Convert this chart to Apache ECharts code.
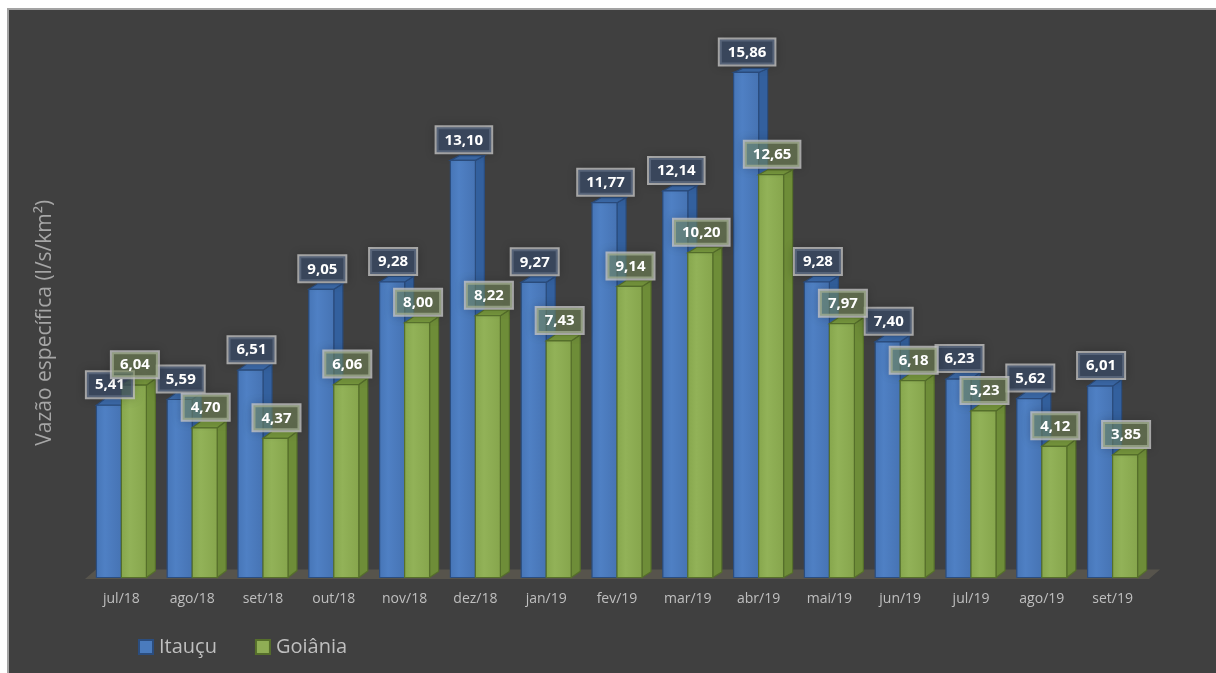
<!DOCTYPE html>
<html>
<head>
<meta charset="utf-8">
<script src="https://cdn.jsdelivr.net/npm/echarts@6/dist/echarts.min.js"></script>
<style>
  html, body { margin: 0; padding: 0; background: #ffffff; overflow: hidden; }
  #frame {
    position: absolute; left: 7px; top: 8px; width: 1230px; height: 690px;
    background: #404040; border-left: 2px solid #a3a3a3; border-top: 2px solid #a3a3a3;
  }
  #chart { position: absolute; left: 0; top: 0; width: 1216px; height: 673px; }
</style>
</head>
<body>
<div id="frame"></div>
<div id="chart"></div>
<script>
// Monthly specific discharge, two stations
const categories = ['jul/18', 'ago/18', 'set/18', 'out/18', 'nov/18', 'dez/18', 'jan/19', 'fev/19',
  'mar/19', 'abr/19', 'mai/19', 'jun/19', 'jul/19', 'ago/19', 'set/19'];
const itaucu = [5.41, 5.59, 6.51, 9.05, 9.28, 13.10, 9.27, 11.77, 12.14, 15.86, 9.28, 7.40, 6.23, 5.62, 6.01];
const goiania = [6.04, 4.70, 4.37, 6.06, 8.00, 8.22, 7.43, 9.14, 10.20, 12.65, 7.97, 6.18, 5.23, 4.12, 3.85];
const seriesNames = ['Itauçu', 'Goiânia'];

const DEPTH_X = 9;

const palettes = {
  blue: {
    front: new echarts.graphic.LinearGradient(0, 0, 1, 0, [
      { offset: 0, color: '#4675b6' }, { offset: 0.35, color: '#4f80c4' }, { offset: 1, color: '#4673b3' }]),
    side: '#33609e', top: '#3c6aa9', stroke: '#2b4d7e',
    labelFill: 'rgba(58,76,106,0.72)'
  },
  green: {
    front: new echarts.graphic.LinearGradient(0, 0, 1, 0, [
      { offset: 0, color: '#86a64c' }, { offset: 0.35, color: '#92b258' }, { offset: 1, color: '#86a54c' }]),
    side: '#6e8d38', top: '#76963d', stroke: '#566f2b',
    labelFill: 'rgba(130,152,96,0.5)'
  }
};

const fmt = v => v.toFixed(2).replace('.', ',');

// One prism per data point: front face, right side face and top face
function barRenderer(pal, onLeft) {
  return function (params, api) {
    const idx = api.value(0);
    const val = api.value(1);
    const base = api.coord([idx, 0]);
    const top = api.coord([idx, val]);
    const band = api.size([1, 0])[0];
    const cs = params.coordSys;
    const w = band * 0.353;
    const x0 = onLeft ? base[0] - w : base[0];
    const x1 = x0 + w;
    const yb = base[1];
    const yt = top[1];
    const dy = 4 + 4 * (yt - cs.y) / cs.height;
    const dx = DEPTH_X;
    const sw = 1.2;
    return {
      type: 'group',
      children: [
        { type: 'polygon', shape: { points: [[x1, yt], [x1 + dx, yt - dy], [x1 + dx, yb - dy], [x1, yb]] },
          style: { fill: pal.side, stroke: pal.stroke, lineWidth: sw } },
        { type: 'polygon', shape: { points: [[x0, yt], [x0 + dx, yt - dy], [x1 + dx, yt - dy], [x1, yt]] },
          style: { fill: pal.top, stroke: pal.stroke, lineWidth: sw } },
        { type: 'rect', shape: { x: x0, y: yt, width: w, height: yb - yt },
          style: { fill: pal.front, stroke: pal.stroke, lineWidth: sw } }
      ]
    };
  };
}

// Value boxes above each prism
function labelRenderer(pal, onLeft, zTop) {
  return function (params, api) {
    const idx = api.value(0);
    const val = api.value(1);
    const base = api.coord([idx, 0]);
    const top = api.coord([idx, val]);
    const band = api.size([1, 0])[0];
    const w = band * 0.353;
    const x0 = onLeft ? base[0] - w : base[0];
    return {
      type: 'text',
      z2: zTop,
      x: x0 + w / 2 + 1,
      y: top[1] - 8,
      style: {
        text: fmt(val),
        fill: '#ffffff',
        font: 'bold 15px "Open Sans", "Liberation Sans", sans-serif',
        align: 'center',
        verticalAlign: 'bottom',
        lineHeight: 18,
        backgroundColor: pal.labelFill,
        borderColor: 'rgba(200,200,200,0.8)',
        borderWidth: 2,
        padding: [4, 8, 3, 8],
        shadowBlur: 10,
        shadowColor: 'rgba(0,0,0,0.22)'
      }
    };
  };
}

// Floor plate under the prisms
function floorRenderer(params) {
  const cs = params.coordSys;
  const yb = cs.y + cs.height;
  return {
    type: 'polygon',
    shape: { points: [[cs.x - 1, yb + 1.5], [cs.x + cs.width + 1, yb + 1.5],
      [cs.x + cs.width + 12, yb - 8], [cs.x + 10, yb - 8]] },
    style: { fill: '#57544c' }
  };
}

const pairs = arr => arr.map((v, i) => [i, v]);

const chart = echarts.init(document.getElementById('chart'), null, { renderer: 'canvas' });
chart.setOption({
  backgroundColor: 'transparent',
  animation: false,
  grid: { left: 86, right: 68, top: 68, bottom: 95.5 },
  xAxis: {
    type: 'category',
    data: categories,
    axisLine: { show: false },
    axisTick: { show: false },
    axisLabel: { color: '#bfbfbf', fontSize: 14, margin: 15, fontFamily: '"Open Sans", sans-serif' }
  },
  yAxis: {
    type: 'value',
    min: 0,
    max: 16,
    interval: 2,
    axisLine: { show: false },
    axisTick: { show: false },
    axisLabel: { show: false },
    splitLine: { show: false },
    name: 'Vazão específica (l/s/km²)',
    nameLocation: 'middle',
    nameGap: 30,
    nameTextStyle: { color: '#a6a6a6', fontSize: 21, fontFamily: '"Open Sans", sans-serif' }
  },
  legend: {
    data: seriesNames,
    left: 133,
    top: 632,
    itemWidth: 14,
    itemHeight: 14,
    itemGap: 38,
    icon: 'rect',
    textStyle: { color: '#bfbfbf', fontSize: 20, fontFamily: '"Open Sans", sans-serif', padding: [0, 0, 0, 1] }
  },
  series: [
    { type: 'custom', name: 'floor', silent: true, data: [[0, 0]], renderItem: floorRenderer, z: 1 },
    { type: 'custom', name: seriesNames[0], data: pairs(itaucu), renderItem: barRenderer(palettes.blue, true),
      itemStyle: { color: '#4a7bbd', borderColor: '#2b4d7e', borderWidth: 1.5 }, z: 2 },
    { type: 'custom', name: seriesNames[1], data: pairs(goiania), renderItem: barRenderer(palettes.green, false),
      itemStyle: { color: '#8fae55', borderColor: '#566f2b', borderWidth: 1.5 }, z: 2 },
    { type: 'custom', name: 'itaucu-values', silent: true, data: pairs(itaucu), renderItem: labelRenderer(palettes.blue, true, 100), z: 3 },
    { type: 'custom', name: 'goiania-values', silent: true, data: pairs(goiania), renderItem: labelRenderer(palettes.green, false, 101), z: 3 }
  ]
});
</script>
</body>
</html>
